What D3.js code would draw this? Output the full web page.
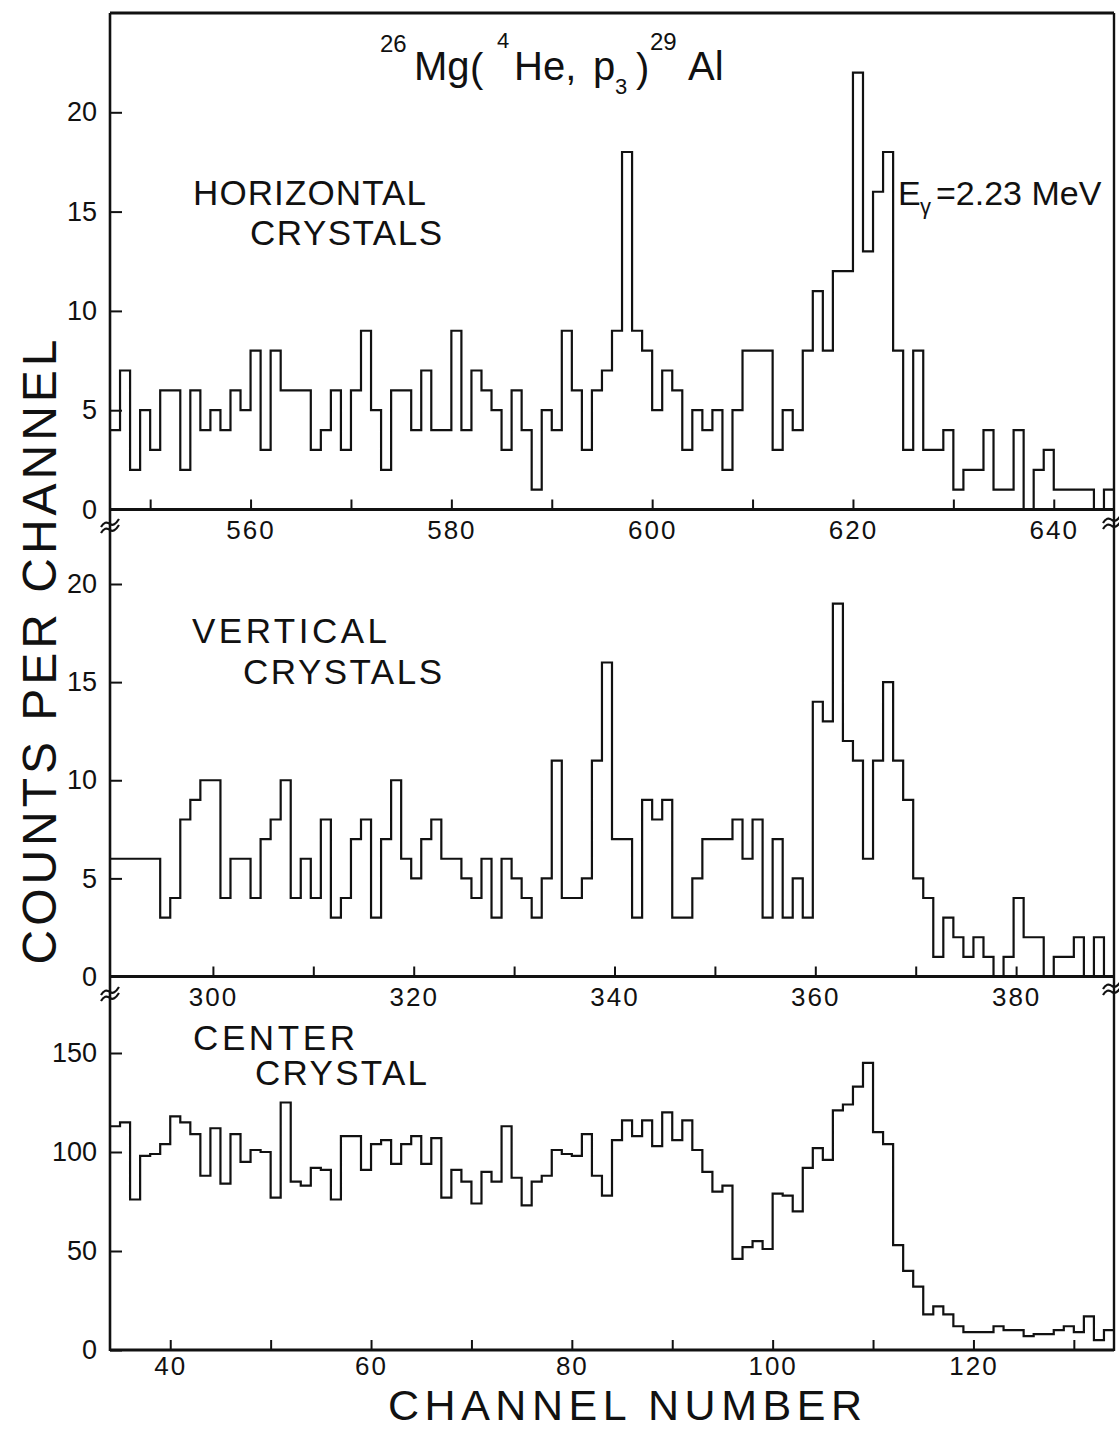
<!DOCTYPE html>
<html>
<head>
<meta charset="utf-8">
<script src="https://cdn.jsdelivr.net/npm/d3@7"></script>
<style>
  body { margin: 0; background: #fff; }
  text { font-family: "Liberation Sans", Arial, sans-serif; fill: #111; }
</style>
</head>
<body>
<svg id="chart" width="1119" height="1430"></svg>
<script>
// Counts per channel, one value per channel, in channel order.
// Horizontal crystals: channels 546 ... 645
const horizontalStart = 546;
const horizontalCounts = [
  4, 7, 2, 5, 3, 6, 6, 2, 6, 4,
  5, 4, 6, 5, 8, 3, 8, 6, 6, 6,
  3, 4, 6, 3, 6, 9, 5, 2, 6, 6,
  4, 7, 4, 4, 9, 4, 7, 6, 5, 3,
  6, 4, 1, 5, 4, 9, 6, 3, 6, 7,
  9, 18, 9, 8, 5, 7, 6, 3, 5, 4,
  5, 2, 5, 8, 8, 8, 3, 5, 4, 8,
  11, 8, 12, 12, 22, 13, 16, 18, 8, 3,
  8, 3, 3, 4, 1, 2, 2, 4, 1, 1,
  4, 0, 2, 3, 1, 1, 1, 1, 0, 1
];

// Vertical crystals: bins start at channel 289.75, one channel wide
const verticalStart = 289.75;
const verticalCounts = [
  6, 6, 6, 6, 6, 3, 4, 8, 9, 10,
  10, 4, 6, 6, 4, 7, 8, 10, 4, 6,
  4, 8, 3, 4, 7, 8, 3, 7, 10, 6,
  5, 7, 8, 6, 6, 5, 4, 6, 3, 6,
  5, 4, 3, 5, 11, 4, 4, 5, 11, 16,
  7, 7, 3, 9, 8, 9, 3, 3, 5, 7,
  7, 7, 8, 6, 8, 3, 7, 3, 5, 3,
  14, 13, 19, 12, 11, 6, 11, 15, 11, 9,
  5, 4, 1, 3, 2, 1, 2, 1, 0, 1,
  4, 2, 2, 0, 1, 1, 2, 0, 2, 0
];

// Center crystal: channels 34 ... 133
const centerStart = 34;
const centerCounts = [
  113, 115, 76, 98, 99, 104, 118, 115, 109, 88,
  112, 84, 109, 95, 101, 100, 77, 125, 85, 83,
  92, 91, 76, 108, 108, 91, 104, 106, 94, 104,
  108, 94, 107, 77, 91, 85, 74, 90, 85, 113,
  87, 73, 85, 88, 101, 99, 98, 109, 88, 78,
  106, 116, 108, 116, 103, 120, 106, 116, 101, 90,
  80, 83, 46, 52, 55, 51, 79, 78, 70, 92,
  102, 96, 121, 124, 133, 145, 110, 104, 53, 40,
  32, 18, 22, 18, 12, 9, 9, 9, 12, 10,
  10, 7, 8, 8, 10, 12, 9, 17, 5, 10
];

// Axis ticks and labels
const horizontalXTicks = [550, 560, 570, 580, 590, 600, 610, 620, 630, 640];
const horizontalXLabels = [560, 580, 600, 620, 640];
const verticalXTicks = [300, 310, 320, 330, 340, 350, 360, 370, 380];
const verticalXLabels = [300, 320, 340, 360, 380];
const centerXTicks = [40, 50, 60, 70, 80, 90, 100, 110, 120, 130];
const centerXLabels = [40, 60, 80, 100, 120];
const countTicksSmall = [0, 5, 10, 15, 20];
const countTicksCenter = [0, 50, 100, 150];

const svg = d3.select("#chart");
const plotLeft = 110, plotRight = 1114, frameTop = 13;

const panels = [
  { counts: horizontalCounts, start: horizontalStart, xTicks: horizontalXTicks, xLabels: horizontalXLabels,
    yTicks: countTicksSmall, yDomain: [0, 25], yRange: [509.5, 13], pad: 11 },
  { counts: verticalCounts, start: verticalStart, xTicks: verticalXTicks, xLabels: verticalXLabels,
    yTicks: countTicksSmall, yDomain: [0, 20], yRange: [976.5, 584], pad: 11 },
  { counts: centerCounts, start: centerStart, xTicks: centerXTicks, xLabels: centerXLabels,
    yTicks: countTicksCenter, yDomain: [0, 150], yRange: [1350, 1053], pad: 7 }
];

panels.forEach(p => {
  const n = p.counts.length;
  const x = d3.scaleLinear().domain([p.start, p.start + n]).range([plotLeft, plotRight]);
  const y = d3.scaleLinear().domain(p.yDomain).range(p.yRange);
  const base = y(0);

  // histogram as a stepped outline
  const pts = p.counts.map((v, i) => [p.start + i, v]);
  pts.push([p.start + n, p.counts[n - 1]]);
  const line = d3.line().x(d => x(d[0])).y(d => y(d[1])).curve(d3.curveStepAfter);
  svg.append("path").attr("d", line(pts))
    .attr("fill", "none").attr("stroke", "#111").attr("stroke-width", 2.2)
    .attr("stroke-linejoin", "miter");

  // x axis: inward ticks, labels every 20 channels
  const xAxis = d3.axisBottom(x).tickValues(p.xTicks).tickSize(-10).tickPadding(p.pad)
    .tickFormat(d => p.xLabels.includes(d) ? d : "");
  const gx = svg.append("g").attr("transform", `translate(0,${base})`).call(xAxis);
  gx.select(".domain").remove();
  gx.selectAll(".tick line").attr("stroke", "#111").attr("stroke-width", 2);
  gx.selectAll(".tick text").attr("font-size", 26).attr("letter-spacing", 2)
    .attr("font-family", "Liberation Sans, Arial, sans-serif").attr("fill", "#111");

  // y axis: inward ticks
  const yAxis = d3.axisLeft(y).tickValues(p.yTicks).tickSize(-12).tickPadding(13);
  const gy = svg.append("g").attr("transform", `translate(${plotLeft},0)`).call(yAxis);
  gy.select(".domain").remove();
  gy.selectAll(".tick line").attr("stroke", "#111").attr("stroke-width", 2);
  gy.selectAll(".tick text").attr("font-size", 27)
    .attr("font-family", "Liberation Sans, Arial, sans-serif").attr("fill", "#111");

  // baseline of the panel
  svg.append("line").attr("x1", plotLeft).attr("x2", plotRight)
    .attr("y1", base).attr("y2", base).attr("stroke", "#111").attr("stroke-width", 3);
});

// frame: top edge, left and right edges
svg.append("line").attr("x1", plotLeft).attr("x2", plotRight).attr("y1", frameTop).attr("y2", frameTop)
  .attr("stroke", "#111").attr("stroke-width", 3);
svg.append("line").attr("x1", plotLeft).attr("x2", plotLeft).attr("y1", frameTop).attr("y2", 1351)
  .attr("stroke", "#111").attr("stroke-width", 2.6);
svg.append("line").attr("x1", plotRight).attr("x2", plotRight).attr("y1", frameTop).attr("y2", 1351)
  .attr("stroke", "#111").attr("stroke-width", 2.4);

// axis break marks where the channel scale is interrupted
const breaks = [[plotLeft, 524], [plotLeft, 992], [plotRight - 2, 520], [plotRight - 2, 986]];
breaks.forEach(([bx, by]) => {
  [0, 6].forEach(off => {
    svg.append("path")
      .attr("d", `M${bx - 9},${by + off + 3} q4,-7 9,-3 q4,3 9,-5`)
      .attr("fill", "none").attr("stroke", "#111").attr("stroke-width", 2.2);
  });
});

// reaction title
const title = svg.append("text").attr("font-size", 40);
title.append("tspan").attr("x", 380).attr("y", 52).attr("font-size", 24).text("26");
title.append("tspan").attr("x", 414).attr("y", 80).text("Mg");
title.append("tspan").attr("x", 470).attr("y", 82).text("(");
title.append("tspan").attr("x", 497).attr("y", 48).attr("font-size", 22).text("4");
title.append("tspan").attr("x", 514).attr("y", 80).text("He,");
title.append("tspan").attr("x", 593).attr("y", 80).text("p");
title.append("tspan").attr("x", 615).attr("y", 94).attr("font-size", 22).text("3");
title.append("tspan").attr("x", 636).attr("y", 82).text(")");
title.append("tspan").attr("x", 650).attr("y", 50).attr("font-size", 24).text("29");
title.append("tspan").attr("x", 688).attr("y", 80).text("Al");

// gamma energy annotation
const eg = svg.append("text").attr("font-size", 34);
eg.append("tspan").attr("x", 898).attr("y", 205).text("E");
eg.append("tspan").attr("x", 920).attr("y", 214).attr("font-size", 22).text("γ");
eg.append("tspan").attr("x", 936).attr("y", 205).text("=2.23 MeV");

// panel captions
const captions = [
  ["HORIZONTAL", 193, 205, 233],
  ["CRYSTALS", 250, 245, 192],
  ["VERTICAL", 192, 643, 195],
  ["CRYSTALS", 243, 684, 199],
  ["CENTER", 193, 1050, 162],
  ["CRYSTAL", 255, 1085, 172]
];
captions.forEach(([t, cx, cy, w]) => {
  svg.append("text").attr("x", cx).attr("y", cy).attr("font-size", 35)
    .attr("textLength", w).attr("lengthAdjust", "spacing").text(t);
});

// axis titles
svg.append("text").attr("x", 625).attr("y", 1420).attr("font-size", 43)
  .attr("text-anchor", "middle").attr("textLength", 474).attr("lengthAdjust", "spacing")
  .text("CHANNEL NUMBER");
svg.append("text").attr("transform", "translate(56,652) rotate(-90)").attr("font-size", 48)
  .attr("text-anchor", "middle").attr("textLength", 625).attr("lengthAdjust", "spacing")
  .text("COUNTS PER CHANNEL");
</script>
</body>
</html>
